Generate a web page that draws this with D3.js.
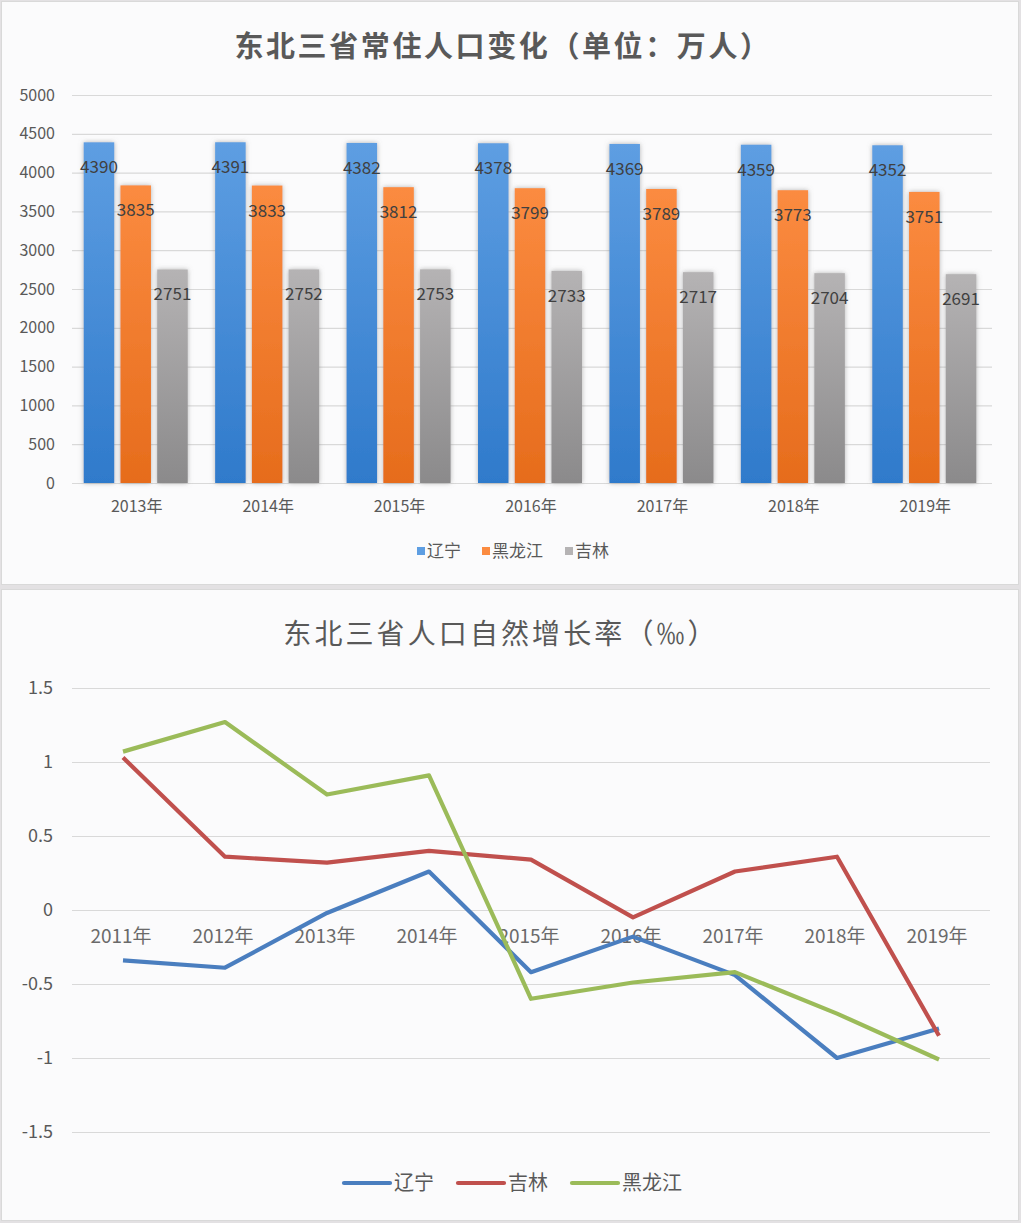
<!DOCTYPE html>
<html><head><meta charset="utf-8">
<script src="https://cdn.jsdelivr.net/npm/d3@7"></script>
<style>
body{margin:0;background:#fff;}
svg{display:block;font-family:"Noto Sans CJK SC","Noto Sans",sans-serif;}
</style></head>
<body>
<svg id="c" width="1021" height="1223"></svg>
<script>
// ---- Chart 1 data ----
const years1 = ["2013年","2014年","2015年","2016年","2017年","2018年","2019年"];
const series1Names = ["辽宁","黑龙江","吉林"];
const liaoning1 = [4390,4391,4382,4378,4369,4359,4352];
const heilongjiang1 = [3835,3833,3812,3799,3789,3773,3751];
const jilin1 = [2751,2752,2753,2733,2717,2704,2691];
const yTicks1 = [0,500,1000,1500,2000,2500,3000,3500,4000,4500,5000];

// ---- Chart 2 data ----
const years2 = ["2011年","2012年","2013年","2014年","2015年","2016年","2017年","2018年","2019年"];
const series2Names = ["辽宁","吉林","黑龙江"];
const liaoning2 = [-0.34,-0.39,-0.02,0.26,-0.42,-0.18,-0.44,-1.00,-0.80];
const jilin2 = [1.03,0.36,0.32,0.40,0.34,-0.05,0.26,0.36,-0.85];
const heilongjiang2 = [1.07,1.27,0.78,0.91,-0.60,-0.49,-0.42,-0.70,-1.01];
const yTicks2 = [-1.5,-1,-0.5,0,0.5,1,1.5];

const svg = d3.select("#c");
const defs = svg.append("defs");

// panels
svg.append("rect").attr("x",0).attr("y",0).attr("width",1021).attr("height",1223).attr("fill","#e3e1e3");
svg.append("rect").attr("x",1.5).attr("y",1.5).attr("width",1017).attr("height",583).attr("fill","#fbfbfc").attr("stroke","#d9d9d9");
svg.append("rect").attr("x",1.5).attr("y",589.5).attr("width",1017).attr("height",631).attr("fill","#fbfbfc").attr("stroke","#d9d9d9");

// ===== Chart 1 =====
const c1Colors = [["#5e9ee2","#2f7acb"],["#fb8b40","#e66c1c"],["#b5b3b4","#8b8a8b"]];
c1Colors.forEach((c,i)=>{
  const g = defs.append("linearGradient").attr("id","g"+i).attr("x1",0).attr("y1",0).attr("x2",0).attr("y2",1);
  g.append("stop").attr("offset","0%").attr("stop-color",c[0]);
  g.append("stop").attr("offset","100%").attr("stop-color",c[1]);
});
const f = defs.append("filter").attr("id","sh").attr("x","-30%").attr("y","-10%").attr("width","160%").attr("height","120%");
f.append("feDropShadow").attr("dx",0).attr("dy",0).attr("stdDeviation",2.5).attr("flood-color","#777").attr("flood-opacity",0.55);

svg.append("text").attr("x",503).attr("y",57).attr("text-anchor","middle")
  .attr("font-size",29).attr("font-weight","bold").attr("fill","#595959").attr("letter-spacing",2.6)
  .text("东北三省常住人口变化（单位：万人）");

const x1 = d3.scaleBand().domain(years1).range([72,992]);
const y1 = d3.scaleLinear().domain([0,5000]).range([483,95]);
const GW = 104;
const xs1 = d3.scaleBand().domain(series1Names).range([0,GW]).paddingInner(0.17);
const g1 = svg.append("g");
g1.selectAll("line.grid").data(yTicks1).join("line")
  .attr("x1",72).attr("x2",992).attr("y1",d=>y1(d)+0.5).attr("y2",d=>y1(d)+0.5)
  .attr("stroke","#d9d9d9").attr("stroke-width",1.2);
g1.selectAll("text.yt").data(yTicks1).join("text")
  .attr("x",55).attr("y",d=>y1(d)).attr("dy","0.35em").attr("text-anchor","end")
  .attr("font-size",16).attr("fill","#595959").text(d=>d);
g1.selectAll("text.xt").data(years1).join("text")
  .attr("x",d=>x1(d)+x1.bandwidth()/2-1).attr("y",512).attr("text-anchor","middle")
  .attr("font-size",16).attr("fill","#595959").text(d=>d);

const bx = (i,si)=>x1(years1[i])+(x1.bandwidth()-GW)/2+xs1(series1Names[si])-2;
const s1 = [liaoning1,heilongjiang1,jilin1];
s1.forEach((vals,si)=>{
  g1.append("g").selectAll("rect").data(vals).join("rect")
    .attr("x",(d,i)=>bx(i,si))
    .attr("width",xs1.bandwidth())
    .attr("y",d=>y1(d)).attr("height",d=>y1(0)-y1(d))
    .attr("fill","url(#g"+si+")").attr("filter","url(#sh)");
});
s1.forEach((vals,si)=>{
  g1.append("g").selectAll("text").data(vals).join("text")
    .attr("x",(d,i)=>bx(i,si)+xs1.bandwidth()/2)
    .attr("y",d=>y1(d)+25).attr("dy","0.35em").attr("text-anchor","middle")
    .attr("font-size",17).attr("fill","#404040").text(d=>d);
});

// legend 1
const leg1X = [417,482,565];
series1Names.forEach((n,i)=>{
  svg.append("rect").attr("x",leg1X[i]).attr("y",547).attr("width",8).attr("height",8).attr("fill",c1Colors[i][0]);
  svg.append("text").attr("x",leg1X[i]+10).attr("y",551).attr("dy","0.35em")
    .attr("font-size",17).attr("fill","#595959").text(n);
});

// ===== Chart 2 =====
svg.append("text").attr("x",501).attr("y",644).attr("text-anchor","middle")
  .attr("font-size",28).attr("fill","#595959").attr("letter-spacing",3.1)
  .text("东北三省人口自然增长率（‰）");

const x2 = d3.scalePoint().domain(years2).range([72,990]).padding(0.5);
const y2 = d3.scaleLinear().domain([-1.5,1.5]).range([1132,688]);
const g2 = svg.append("g");
g2.selectAll("line").data(yTicks2).join("line")
  .attr("x1",72).attr("x2",990).attr("y1",d=>y2(d)+0.5).attr("y2",d=>y2(d)+0.5)
  .attr("stroke","#d9d9d9").attr("stroke-width",1.2);
g2.selectAll("text.yt").data(yTicks2).join("text")
  .attr("x",53).attr("y",d=>y2(d)).attr("dy","0.35em").attr("text-anchor","end")
  .attr("font-size",18).attr("fill","#595959").text(d=>d<0?"-"+String(-d):String(d));
g2.selectAll("text.xt").data(years2).join("text")
  .attr("x",d=>x2(d)-2).attr("y",943).attr("text-anchor","middle")
  .attr("font-size",19).attr("fill","#6a6a6a").text(d=>d);

const c2Colors = ["#4a7ebf","#c0504d","#9bbb59"];
const s2 = [liaoning2,jilin2,heilongjiang2];
const line = d3.line().x((d,i)=>x2(years2[i])).y(d=>y2(d));
s2.forEach((vals,si)=>{
  g2.append("path").datum(vals).attr("d",line).attr("fill","none")
    .attr("stroke",c2Colors[si]).attr("stroke-width",4.2).attr("stroke-linejoin","round");
});

// legend 2
const leg2X = [342,456,570];
series2Names.forEach((n,i)=>{
  svg.append("line").attr("x1",leg2X[i]+2).attr("x2",leg2X[i]+48).attr("y1",1183).attr("y2",1183)
    .attr("stroke",c2Colors[i]).attr("stroke-width",4.2).attr("stroke-linecap","round");
  svg.append("text").attr("x",leg2X[i]+52).attr("y",1183).attr("dy","0.35em")
    .attr("font-size",20).attr("fill","#595959").text(n);
});
</script>
</body></html>
